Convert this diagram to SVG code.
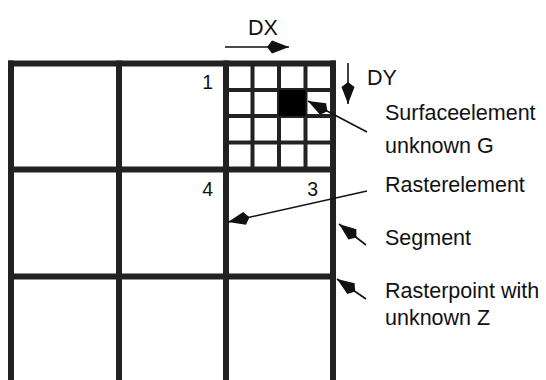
<svg xmlns="http://www.w3.org/2000/svg" width="546" height="380" viewBox="0 0 546 380">
<defs>
<style>
.thick{stroke:#222;stroke-width:6;fill:none}
.fine{stroke:#222;stroke-width:4;fill:none}
.conn{stroke:#111;stroke-width:1.6;fill:none}
.lbl{font-family:"Liberation Sans",Arial,Helvetica,sans-serif;font-size:21.5px;fill:#111}
.num{font-family:"Liberation Sans",Arial,Helvetica,sans-serif;font-size:19.5px;fill:#111}
</style>
<marker id="kite" viewBox="-25 -8 27 16" refX="0" refY="0" markerWidth="27" markerHeight="16" markerUnits="userSpaceOnUse" orient="auto">
<polygon points="0,0 -17,-6.5 -22,0 -17,6.5" fill="#111"/>
</marker>
</defs>
<rect width="546" height="380" fill="#fff"/>
<g id="raster">
<g id="grid-lines">
<line class="thick" x1="8" y1="63.5" x2="336" y2="63.5"/>
<line class="thick" x1="8" y1="169.5" x2="336" y2="169.5"/>
<line class="thick" x1="8" y1="276.5" x2="336" y2="276.5"/>
<line class="thick" x1="11" y1="60.5" x2="11" y2="380"/>
<line class="thick" x1="119" y1="60.5" x2="119" y2="380"/>
<line class="thick" x1="226" y1="60.5" x2="226" y2="380"/>
<line class="thick" x1="333" y1="60.5" x2="333" y2="380"/>
</g>
<g id="segment-subgrid">
<line class="fine" x1="252.5" y1="63.5" x2="252.5" y2="169.5"/>
<line class="fine" x1="279" y1="63.5" x2="279" y2="169.5"/>
<line class="fine" x1="305.5" y1="63.5" x2="305.5" y2="169.5"/>
<line class="fine" x1="226" y1="90" x2="333" y2="90"/>
<line class="fine" x1="226" y1="116" x2="333" y2="116"/>
<line class="fine" x1="226" y1="142.5" x2="333" y2="142.5"/>
</g>
<rect id="surfaceelement" x="279" y="90" width="26.5" height="26" fill="#000"/>
</g>
<g id="corner-numbers">
<text class="num" x="213" y="89" text-anchor="end">1</text>
<text class="num" x="213" y="196" text-anchor="end">4</text>
<text class="num" x="318" y="196" text-anchor="end">3</text>
</g>
<g id="connectors">
<line class="conn" x1="225" y1="47" x2="289" y2="47" marker-end="url(#kite)"/>
<line class="conn" x1="348" y1="63" x2="348" y2="104" marker-end="url(#kite)"/>
<line class="conn" x1="367" y1="132" x2="308" y2="101" marker-end="url(#kite)"/>
<line class="conn" x1="367" y1="191" x2="228" y2="222" marker-end="url(#kite)"/>
<line class="conn" x1="366" y1="245" x2="339" y2="224" marker-end="url(#kite)"/>
<line class="conn" x1="366" y1="299" x2="337" y2="279" marker-end="url(#kite)"/>
</g>
<g id="labels">
<text class="lbl" x="248" y="35">DX</text>
<text class="lbl" x="367" y="85">DY</text>
<text class="lbl" x="385" y="120">Surfaceelement</text>
<text class="lbl" x="385" y="153">unknown G</text>
<text class="lbl" x="385" y="192">Rasterelement</text>
<text class="lbl" x="385" y="245">Segment</text>
<text class="lbl" x="385" y="298">Rasterpoint with</text>
<text class="lbl" x="385" y="325">unknown Z</text>
</g>
</svg>
